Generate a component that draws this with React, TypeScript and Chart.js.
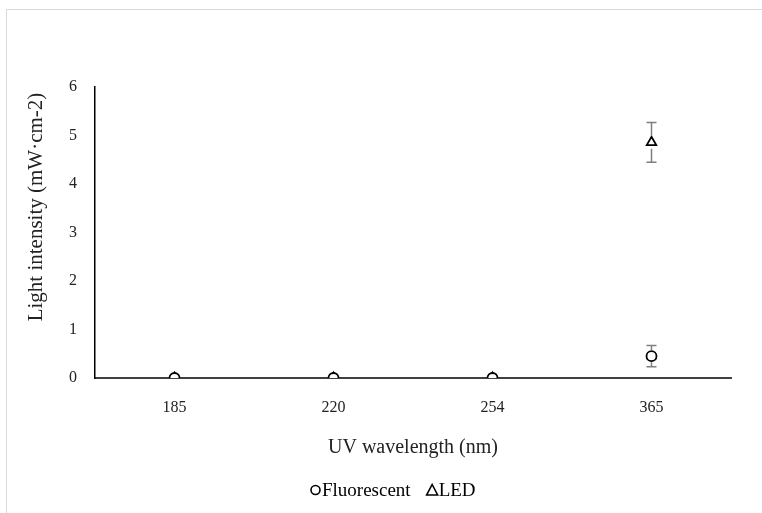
import React, { useEffect, useRef } from "react";
import { Chart, registerables } from "chart.js";

Chart.register(...registerables);

const categories = ["185", "220", "254", "365"];
const fluorescentValues = [0, 0, 0, 0.45];
const fluorescentErrors = [0, 0, 0, 0.22];
const ledValues = [0, 0, 0, 4.86];
const ledErrors = [0, 0, 0, 0.41];
const yTicks = [0, 1, 2, 3, 4, 5, 6];
const xTitle = "UV wavelength (nm)";
const yTitle = "Light intensity (mW·cm-2)";

const FONT = "'Liberation Serif', 'Times New Roman', serif";

const errorBarPlugin = {
  id: "errorBars",
  afterDatasetsDraw(chart: any) {
    const { ctx } = chart;
    const yScale = chart.scales.y;
    const xScale = chart.scales.x;
    chart.data.datasets.forEach((ds: any) => {
      const errs: number[] = ds.errors || [];
      ds.data.forEach((v: number, i: number) => {
        const e = errs[i] || 0;
        if (!e) return;
        const x = xScale.getPixelForValue(i);
        const yTop = yScale.getPixelForValue(v + e);
        const yBot = yScale.getPixelForValue(v - e);
        const yc = yScale.getPixelForValue(v);
        const gap = ds.pointRadius + 1;
        ctx.save();
        ctx.strokeStyle = "#7f7f7f";
        ctx.lineWidth = 1.5;
        ctx.beginPath();
        ctx.moveTo(x, yTop);
        ctx.lineTo(x, yc - gap);
        ctx.moveTo(x, yc + gap);
        ctx.lineTo(x, yBot);
        ctx.moveTo(x - 5, yTop);
        ctx.lineTo(x + 5, yTop);
        ctx.moveTo(x - 5, yBot);
        ctx.lineTo(x + 5, yBot);
        ctx.stroke();
        ctx.restore();
      });
    });
  },
};

const yTitlePlugin = {
  id: "yTitle",
  afterDraw(chart: any) {
    const { ctx } = chart;
    ctx.save();
    ctx.translate(36, 207);
    ctx.rotate(-Math.PI / 2);
    ctx.font = `21px ${FONT}`;
    ctx.fillStyle = "#222";
    ctx.textAlign = "center";
    ctx.textBaseline = "middle";
    ctx.fillText(yTitle, 0, 0);
    ctx.restore();
  },
};

const legendPlugin = {
  id: "customLegend",
  afterDraw(chart: any) {
    const { ctx } = chart;
    const y = 490;
    ctx.save();
    ctx.font = `19px ${FONT}`;
    ctx.textBaseline = "middle";
    ctx.fillStyle = "#000";
    ctx.strokeStyle = "#000";
    ctx.lineWidth = 1.6;
    const items = chart.data.datasets.map((d: any) => ({ label: d.label, style: d.pointStyle }));
    const markerW = 11;
    const gapAfterMarker = 1;
    const gapBetween = 16;
    let x = 310;
    items.forEach((it: any) => {
      const cx = x + markerW / 2;
      ctx.beginPath();
      if (it.style === "circle") {
        ctx.arc(cx, y, 4.5, 0, Math.PI * 2);
      } else {
        ctx.moveTo(cx, y - 5.5);
        ctx.lineTo(cx + 5.5, y + 5);
        ctx.lineTo(cx - 5.5, y + 5);
        ctx.closePath();
      }
      ctx.stroke();
      x += markerW + gapAfterMarker;
      ctx.fillText(it.label, x, y + 1);
      x += ctx.measureText(it.label).width + gapBetween;
    });
    ctx.restore();
  },
};

export default function App() {
  const canvasRef = useRef<HTMLCanvasElement | null>(null);

  useEffect(() => {
    if (!canvasRef.current) return;
    const chart = new Chart(canvasRef.current, {
      type: "line",
      data: {
        labels: categories,
        datasets: [
          {
            label: "Fluorescent",
            data: fluorescentValues,
            errors: fluorescentErrors,
            showLine: false,
            pointStyle: "circle",
            pointRadius: 5,
            pointBorderWidth: 1.8,
            pointBorderColor: "#000",
            pointBackgroundColor: "#fff",
            order: 1,
          } as any,
          {
            label: "LED",
            data: ledValues,
            errors: ledErrors,
            showLine: false,
            pointStyle: "triangle",
            pointRadius: 5.5,
            pointBorderWidth: 1.8,
            pointBorderColor: "#000",
            pointBackgroundColor: "#fff",
            order: 2,
          } as any,
        ],
      },
      options: {
        responsive: false,
        animation: false,
        layout: { padding: { left: 0, right: 31, top: 87, bottom: 0 } },
        plugins: {
          legend: { display: false },
          tooltip: { enabled: false },
        },
        scales: {
          x: {
            type: "category",
            offset: true,
            grid: { display: false, drawTicks: false },
            border: { display: true, color: "#404040", width: 2 },
            ticks: {
              padding: 20,
              color: "#222",
              font: { family: FONT, size: 16 },
            },
            title: {
              display: true,
              text: xTitle,
              color: "#222",
              font: { family: FONT, size: 20 },
              padding: { top: 0, bottom: 53 },
            },
            afterFit: (scale: any) => {
              scale.height = 135;
            },
          },
          y: {
            min: 0,
            max: 6,
            afterBuildTicks: (scale: any) => {
              scale.ticks = yTicks.map((v) => ({ value: v }));
            },
            grid: { display: false, drawTicks: false },
            border: { display: true, color: "#000", width: 1.5 },
            ticks: {
              padding: 18,
              color: "#222",
              font: { family: FONT, size: 16 },
            },
            title: { display: false },
            afterFit: (scale: any) => {
              scale.width = 95;
            },
          },
        },
      } as any,
      plugins: [errorBarPlugin, yTitlePlugin, legendPlugin],
    });
    return () => chart.destroy();
  }, []);

  return (
    <div style={{ position: "absolute", left: 0, top: 0, width: 762, height: 513, overflow: "hidden", background: "#fff" }}>
      <div
        style={{
          position: "absolute",
          left: 6,
          top: 9,
          width: 800,
          height: 600,
          border: "1.5px solid #d9d9d9",
          boxSizing: "border-box",
        }}
      />
      <canvas ref={canvasRef} width={762} height={513} style={{ position: "absolute", left: 0, top: 0 }} />
    </div>
  );
}
